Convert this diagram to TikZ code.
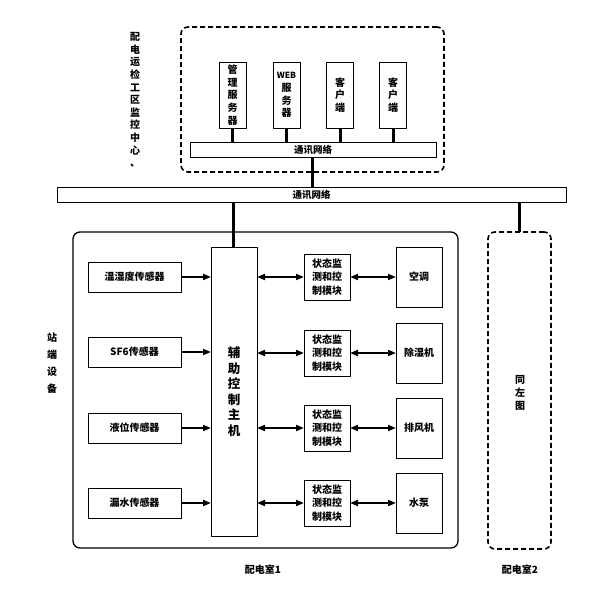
\documentclass[tikz,border=0pt]{standalone}
\usepackage{fontspec}
\newfontfamily\cjk{Noto Sans CJK SC}
\usetikzlibrary{arrows.meta}
\begin{document}
\begin{tikzpicture}[x=1pt,y=-1pt,
  every node/.style={inner sep=0pt,outer sep=0pt},
  txt/.style={font=\cjk\bfseries\fontsize{10}{13.5}\selectfont,align=center},
  box/.style={draw,line width=0.6pt,txt},
  dbox/.style={draw,line width=1.6pt,dash pattern=on 5pt off 3pt,rounded corners=7pt},
  bar/.style={draw,line width=0.6pt,txt},
  thick3/.style={line width=3pt},
  arr/.style={line width=1.8pt,-{Triangle[length=8pt,width=6pt]}},
  darr/.style={line width=1.8pt,{Triangle[length=8pt,width=6pt]}-{Triangle[length=8pt,width=6pt]}}
]
\useasboundingbox (0,0) rectangle (598,589);
% top monitoring center
\node[dbox,minimum width=263,minimum height=145] (top) at (312.5,99.5) {};
\node[txt,font=\cjk\bfseries\fontsize{10}{12.6}\selectfont] (toplbl) at (135,100) {配\\电\\运\\检\\工\\区\\监\\控\\中\\心\\、};
\node[box,minimum width=27,minimum height=66,font=\cjk\bfseries\fontsize{10}{12.8}\selectfont] (s1) at (232.5,95) {管\\理\\服\\务\\器};
\node[box,minimum width=27,minimum height=66,font=\cjk\bfseries\fontsize{10}{12.8}\selectfont] (s2) at (286.5,95) {{\fontsize{8.5}{11}\selectfont WEB}\\服\\务\\器};
\node[box,minimum width=27,minimum height=66,font=\cjk\bfseries\fontsize{10}{12.8}\selectfont] (s3) at (340,95) {客\\户\\端};
\node[box,minimum width=27,minimum height=66,font=\cjk\bfseries\fontsize{10}{12.8}\selectfont] (s4) at (393,95) {客\\户\\端};
\node[bar,minimum width=246,minimum height=15,font=\cjk\bfseries\fontsize{9.5}{12}\selectfont] (ibar) at (313,149.5) {通讯网络};
\node[bar,minimum width=509,minimum height=15,font=\cjk\bfseries\fontsize{9.5}{12}\selectfont] (mbar) at (311.5,194.5) {通讯网络};
\foreach \s in {s1,s2,s3,s4}{\draw[thick3] (\s.south) -- (\s.south |- ibar.north);}
\coordinate (c1) at (312,157);
\draw[thick3] (c1) -- (c1 |- mbar.north);
% room 1
\node[draw,line width=1.3pt,rounded corners=7pt,minimum width=385,minimum height=316] (room) at (265.5,390) {};
\node[txt,font=\cjk\bfseries\fontsize{10}{17}\selectfont] (roomlbl) at (52,363) {站\\端\\设\\备};
\node[box,minimum width=46,minimum height=289,font=\cjk\bfseries\fontsize{12.5}{15.5}\selectfont] (ctrl) at (234,391.5) {辅\\助\\控\\制\\主\\机};
\coordinate (c2) at (233,202);
\draw[thick3] (c2) -- (c2 |- ctrl.north);
\foreach \i/\y/\t in {1/277/温湿度传感器,2/352/SF6传感器,3/428/液位传感器,4/503/漏水传感器}{
  \node[box,minimum width=93,minimum height=30] (sen\i) at (134.5,\y) {\t};
  \draw[arr] (sen\i.east) -- (ctrl.west |- sen\i.east);
}
\foreach \i/\y/\t in {1/277/空调,2/353/除湿机,3/428/排风机,4/503/水泵}{
  \node[box,minimum width=46,minimum height=46] (mod\i) at (327,\y) {状态监\\测和控\\制模块};
  \node[box,minimum width=46,minimum height=60] (dev\i) at (419,\y) {\t};
  \draw[darr] (ctrl.east |- mod\i.west) -- (mod\i.west);
  \draw[darr] (mod\i.east) -- (dev\i.west);
}
\node[txt] (r1lbl) at (263,570) {配电室1};
% room 2
\node[dbox,minimum width=63,minimum height=317] (room2) at (519.5,390.5) {};
\node[txt,font=\cjk\bfseries\fontsize{10}{13}\selectfont] (r2txt) at (520,393) {同\\左\\图};
\coordinate (c3) at (519,202);
\draw[thick3] (c3) -- (c3 |- room2.north);
\node[txt] (r2lbl) at (520,570) {配电室2};
\end{tikzpicture}
\end{document}
